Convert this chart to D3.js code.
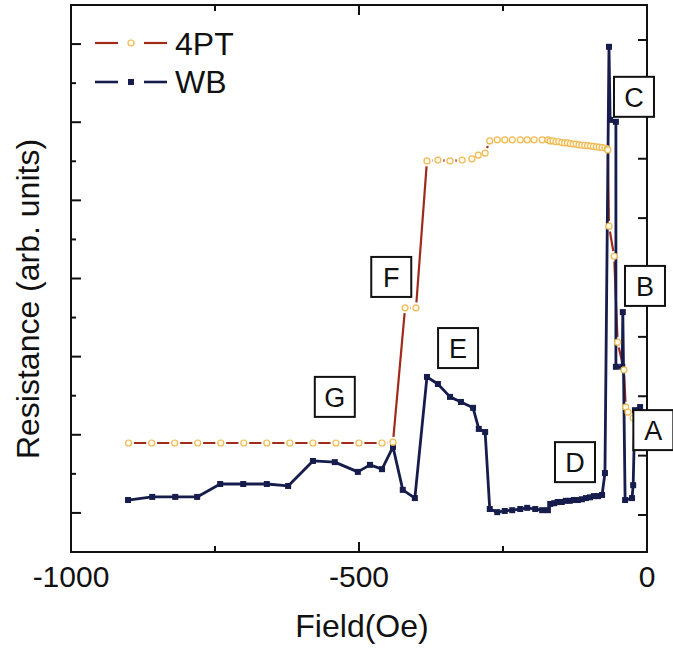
<!DOCTYPE html>
<html>
<head>
<meta charset="utf-8">
<script src="https://cdn.jsdelivr.net/npm/d3@7"></script>
<style>
  body { margin: 0; background: #fff; }
  text { font-family: "Liberation Sans", Arial, sans-serif; fill: #111; }
</style>
</head>
<body>
<svg id="chart" width="673" height="650"></svg>
<script>
// 4PT (four-point) resistance vs field
const fieldPT = [-900, -860, -820, -780, -740, -700, -660, -620, -580, -540, -500, -460, -441,
  -420, -401, -382, -363, -342, -321, -304, -293, -281, -273,
  -260, -247, -234, -220, -208, -196, -182, -172,
  -168, -163, -158, -153, -148, -143, -138, -133, -128, -123, -118, -113, -108, -103, -98, -93, -88, -83, -78, -73, -69,
  -68, -66, -57, -51, -40, -37, -33, -24];
const resPT = [2.79, 2.79, 2.79, 2.79, 2.79, 2.79, 2.79, 2.79, 2.79, 2.79, 2.79, 2.79, 2.81,
  6.25, 6.25, 10.01, 10.03, 10.01, 10.03, 10.06, 10.16, 10.21, 10.52,
  10.55, 10.55, 10.55, 10.55, 10.55, 10.55, 10.55, 10.55,
  10.52, 10.52, 10.50, 10.50, 10.48, 10.47, 10.47, 10.45, 10.44, 10.44, 10.42, 10.41, 10.41, 10.40, 10.39, 10.38, 10.37, 10.36, 10.35, 10.34, 10.32,
  10.29, 8.34, 7.57, 5.37, 4.66, 3.71, 3.58, 3.43];

// WB resistance vs field
const fieldWB = [-901, -859, -819, -781, -741, -701, -660, -623, -580, -542, -502, -481, -460, -441,
  -424, -403, -382, -363, -342, -323, -302, -292, -281, -273, -260,
  -247, -234, -220, -208, -194, -182, -172,
  -168, -161, -155, -148, -141, -134, -127, -120, -113, -106, -99, -92, -85, -78,
  -73, -66, -64, -54, -54, -43, -42, -38, -26, -24, -21, -12];
const resWB = [1.33, 1.41, 1.41, 1.41, 1.74, 1.74, 1.74, 1.69, 2.33, 2.30, 2.05, 2.23, 2.12, 2.69,
  1.59, 1.38, 4.48, 4.30, 3.97, 3.84, 3.69, 3.15, 3.07, 1.10, 1.02,
  1.05, 1.07, 1.10, 1.13, 1.10, 1.07, 1.07,
  1.23, 1.25, 1.28, 1.28, 1.31, 1.31, 1.33, 1.33, 1.35, 1.38, 1.40, 1.43, 1.43, 1.46,
  2.02, 12.93, 11.06, 11.01, 4.74, 4.74, 6.14, 1.33, 1.38, 1.71, 3.63, 3.71];

const xTicks = [-1000, -500, 0];
const xMinorTicks = [-750, -250];

// labelled regions on the curves: [letter, field, resistance] of the box centre
const boxLabels = [["A", 11, 3.12], ["B", -3.5, 6.81], ["C", -22.6, 11.65], ["D", -125, 2.30],
  ["E", -328, 5.22], ["F", -444, 7.04], ["G", -542, 3.97]];

const svg = d3.select("#chart");
const x = d3.scaleLinear().domain([-1000, 0]).range([71, 647]);
const y = d3.scaleLinear().domain([0, 14]).range([552, 5]);
const yRight = d3.scaleLinear().domain([-0.623, 8.589]).range([552, 5]);

const ptColor = "#a02a1c";
const wbColor = "#161c4c";

const plotG = svg.append("g");

// frame
plotG.append("rect")
  .attr("x", x(-1000)).attr("y", y(14))
  .attr("width", x(0) - x(-1000)).attr("height", y(0) - y(14))
  .attr("fill", "none").attr("stroke", "#111").attr("stroke-width", 2);

// ticks (all pointing inward)
const tickG = plotG.append("g").attr("stroke", "#111").attr("stroke-width", 2);
d3.range(1, 14).forEach((v) => {
  const len = v % 2 === 1 ? 10 : 5;
  tickG.append("line").attr("x1", x(-1000)).attr("x2", x(-1000) + len)
    .attr("y1", y(v)).attr("y2", y(v));
});
d3.range(0, 9).forEach((v) => {
  tickG.append("line").attr("x1", x(0)).attr("x2", x(0) - 9)
    .attr("y1", yRight(v)).attr("y2", yRight(v));
});
xTicks.concat(xMinorTicks).forEach((v) => {
  const len = xTicks.includes(v) ? 10 : 6;
  tickG.append("line").attr("x1", x(v)).attr("x2", x(v))
    .attr("y1", y(0)).attr("y2", y(0) - len);
  tickG.append("line").attr("x1", x(v)).attr("x2", x(v))
    .attr("y1", y(14)).attr("y2", y(14) + len);
});

// tick labels
svg.append("g").selectAll("text").data(xTicks).join("text")
  .attr("x", (d) => x(d)).attr("y", 587)
  .attr("text-anchor", "middle")
  .style("font-size", "30px")
  .text((d) => d);

svg.append("text")
  .attr("x", 362).attr("y", 637)
  .attr("text-anchor", "middle")
  .style("font-size", "32px")
  .text("Field(Oe)");

svg.append("text")
  .attr("transform", "translate(39,299) rotate(-90)")
  .attr("text-anchor", "middle")
  .style("font-size", "32px")
  .text("Resistance (arb. units)");

// series
const ptData = fieldPT.map((f, i) => [f, resPT[i]]);
const wbData = fieldWB.map((f, i) => [f, resWB[i]]);
const line = d3.line().x((d) => x(d[0])).y((d) => y(d[1]));

plotG.append("path")
  .datum(ptData)
  .attr("d", line)
  .attr("fill", "none")
  .attr("stroke", ptColor)
  .attr("stroke-width", 2.2);

// white gap around each 4PT symbol (line is broken near the markers)
plotG.append("g").selectAll("circle").data(ptData).join("circle")
  .attr("cx", (d) => x(d[0])).attr("cy", (d) => y(d[1]))
  .attr("r", 5.5)
  .attr("fill", "#fff");

plotG.append("path")
  .datum(wbData)
  .attr("d", line)
  .attr("fill", "none")
  .attr("stroke", wbColor)
  .attr("stroke-width", 2.8)
  .attr("stroke-linejoin", "round");

plotG.append("g").selectAll("rect").data(wbData).join("rect")
  .attr("x", (d) => x(d[0]) - 3).attr("y", (d) => y(d[1]) - 3)
  .attr("width", 6).attr("height", 6)
  .attr("fill", wbColor);

plotG.append("g").selectAll("circle").data(ptData).join("circle")
  .attr("cx", (d) => x(d[0])).attr("cy", (d) => y(d[1]))
  .attr("r", 3)
  .attr("fill", "#fffbe6")
  .attr("stroke", "#efb955")
  .attr("stroke-width", 1.2);

// legend
const legend = svg.append("g");
legend.append("line").attr("x1", 95).attr("x2", 118).attr("y1", 43).attr("y2", 43)
  .attr("stroke", ptColor).attr("stroke-width", 2.2);
legend.append("line").attr("x1", 144).attr("x2", 167).attr("y1", 43).attr("y2", 43)
  .attr("stroke", ptColor).attr("stroke-width", 2.2);
legend.append("circle").attr("cx", 131).attr("cy", 43).attr("r", 3)
  .attr("fill", "#fffbe6").attr("stroke", "#efb955").attr("stroke-width", 1.2);
legend.append("text").attr("x", 175).attr("y", 55).style("font-size", "32px").text("4PT");

legend.append("line").attr("x1", 95).attr("x2", 118).attr("y1", 82).attr("y2", 82)
  .attr("stroke", wbColor).attr("stroke-width", 2.6);
legend.append("line").attr("x1", 144).attr("x2", 167).attr("y1", 82).attr("y2", 82)
  .attr("stroke", wbColor).attr("stroke-width", 2.6);
legend.append("rect").attr("x", 128).attr("y", 79).attr("width", 6).attr("height", 6)
  .attr("fill", wbColor);
legend.append("text").attr("x", 175).attr("y", 93).style("font-size", "32px").text("WB");

// letter boxes
const boxes = svg.append("g").selectAll("g").data(boxLabels).join("g")
  .attr("transform", (d) => `translate(${x(d[1])},${y(d[2])})`);
boxes.append("rect")
  .attr("x", -20).attr("y", -20).attr("width", 40).attr("height", 40)
  .attr("fill", "#fff").attr("stroke", "#111").attr("stroke-width", 2);
boxes.append("text")
  .attr("text-anchor", "middle").attr("y", 10)
  .style("font-size", "27px")
  .text((d) => d[0]);
</script>
</body>
</html>
